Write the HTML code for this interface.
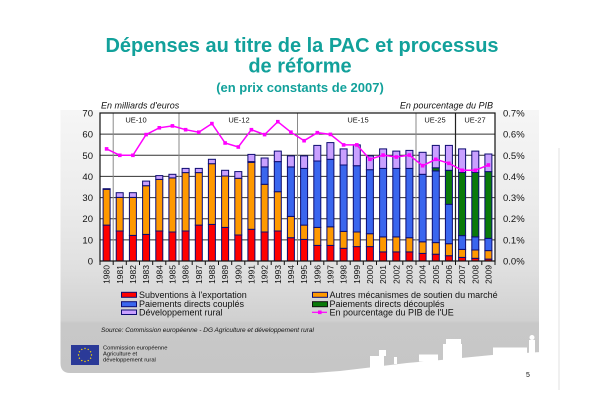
<!DOCTYPE html>
<html><head><meta charset="utf-8"><style>
html,body{margin:0;padding:0;background:#fff;}
svg{display:block;}
text{font-family:"Liberation Sans",Arial,sans-serif;}
</style></head><body>
<svg width="600" height="407" viewBox="0 0 600 407" xmlns="http://www.w3.org/2000/svg">
<defs>
<linearGradient id="pg" x1="0" y1="0" x2="0" y2="1">
<stop offset="0" stop-color="#f6f6f6"/>
<stop offset="0.35" stop-color="#ececec"/>
<stop offset="0.6" stop-color="#e0e0e0"/>
<stop offset="0.8" stop-color="#d0d0d0"/>
<stop offset="0.81" stop-color="#c8c8c8"/>
<stop offset="1" stop-color="#c6c6c6"/>
</linearGradient>
</defs>
<rect width="600" height="407" fill="#fff"/>
<!-- title -->
<g font-weight="bold" fill="#12a19b" text-anchor="middle">
<text x="302" y="52" font-size="20">Dépenses au titre de la PAC et processus</text>
<text x="300" y="72.5" font-size="20">de réforme</text>
<text x="300" y="92" font-size="13">(en prix constants de 2007)</text>
</g>
<!-- panel -->
<path d="M60.5,110 H539 V373 H70 Q60.5,373 60.5,363 Z" fill="url(#pg)"/>
<line x1="559" y1="148" x2="559" y2="390" stroke="#e2e2e2" stroke-width="1"/>
<!-- axis captions -->
<text x="101" y="108.5" font-size="9" font-style="italic" fill="#111">En milliards d'euros</text>
<text x="493" y="108.5" font-size="9" font-style="italic" fill="#111" text-anchor="end">En pourcentage du PIB</text>
<!-- plot bg -->
<rect x="100" y="113" width="395" height="148" fill="#fff"/>
<!-- gridlines -->
<g stroke="#333" stroke-width="1">
<line x1="100" y1="134.1" x2="495" y2="134.1"/>
<line x1="100" y1="155.3" x2="495" y2="155.3"/>
<line x1="100" y1="176.4" x2="495" y2="176.4"/>
<line x1="100" y1="197.6" x2="495" y2="197.6"/>
<line x1="100" y1="218.7" x2="495" y2="218.7"/>
<line x1="100" y1="239.9" x2="495" y2="239.9"/>
</g>
<!-- region dividers -->
<g stroke="#8a8a8a" stroke-width="1">
<line x1="113.2" y1="113" x2="113.2" y2="261"/>
<line x1="179" y1="113" x2="179" y2="261"/>
<line x1="297.5" y1="113" x2="297.5" y2="261"/>
<line x1="416" y1="113" x2="416" y2="261"/>
</g>
<line x1="455.5" y1="113" x2="455.5" y2="261" stroke="#222" stroke-width="1.2"/>
<!-- UE labels -->
<g font-size="7.5" fill="#111" text-anchor="middle">
<text x="136" y="122.5">UE-10</text>
<text x="239" y="122.5">UE-12</text>
<text x="358" y="122.5">UE-15</text>
<text x="435" y="122.5">UE-25</text>
<text x="475" y="122.5">UE-27</text>
</g>
<!-- bars -->
<g stroke="#0c0c70" stroke-width="1">
<g transform="translate(103.1,0)"><rect width="7" y="225.1" height="35.9" fill="#f00"/><rect width="7" y="189.3" height="35.8" fill="#f90"/><rect width="7" y="188.7" height="0.6" fill="#c9a0ff"/></g>
<g transform="translate(116.2,0)"><rect width="7" y="231" height="30" fill="#f00"/><rect width="7" y="197.4" height="33.6" fill="#f90"/><rect width="7" y="192.7" height="4.7" fill="#c9a0ff"/></g>
<g transform="translate(129.4,0)"><rect width="7" y="235.4" height="25.6" fill="#f00"/><rect width="7" y="197.4" height="38" fill="#f90"/><rect width="7" y="192.7" height="4.7" fill="#c9a0ff"/></g>
<g transform="translate(142.6,0)"><rect width="7" y="234.4" height="26.6" fill="#f00"/><rect width="7" y="185.7" height="48.7" fill="#f90"/><rect width="7" y="181.1" height="4.6" fill="#c9a0ff"/></g>
<g transform="translate(155.8,0)"><rect width="7" y="231" height="30" fill="#f00"/><rect width="7" y="179.4" height="51.6" fill="#f90"/><rect width="7" y="175.6" height="3.8" fill="#c9a0ff"/></g>
<g transform="translate(168.9,0)"><rect width="7" y="232" height="29" fill="#f00"/><rect width="7" y="177.9" height="54.1" fill="#f90"/><rect width="7" y="174.3" height="3.6" fill="#c9a0ff"/></g>
<g transform="translate(182.1,0)"><rect width="7" y="231" height="30" fill="#f00"/><rect width="7" y="172.6" height="58.4" fill="#f90"/><rect width="7" y="168.4" height="4.2" fill="#c9a0ff"/></g>
<g transform="translate(195.3,0)"><rect width="7" y="225.1" height="35.9" fill="#f00"/><rect width="7" y="172.6" height="52.5" fill="#f90"/><rect width="7" y="168.4" height="4.2" fill="#c9a0ff"/></g>
<g transform="translate(208.4,0)"><rect width="7" y="224.4" height="36.6" fill="#f00"/><rect width="7" y="163.7" height="60.7" fill="#f90"/><rect width="7" y="159.3" height="4.4" fill="#c9a0ff"/></g>
<g transform="translate(221.6,0)"><rect width="7" y="227.4" height="33.6" fill="#f00"/><rect width="7" y="176" height="51.4" fill="#f90"/><rect width="7" y="170.3" height="5.7" fill="#c9a0ff"/></g>
<g transform="translate(234.8,0)"><rect width="7" y="235" height="26" fill="#f00"/><rect width="7" y="178.3" height="56.7" fill="#f90"/><rect width="7" y="171.6" height="6.7" fill="#c9a0ff"/></g>
<g transform="translate(247.9,0)"><rect width="7" y="229.3" height="31.7" fill="#f00"/><rect width="7" y="162.3" height="67" fill="#f90"/><rect width="7" y="161.6" height="0.7" fill="#3a66ee"/><rect width="7" y="154.4" height="7.2" fill="#c9a0ff"/></g>
<g transform="translate(261.1,0)"><rect width="7" y="232" height="29" fill="#f00"/><rect width="7" y="184.3" height="47.7" fill="#f90"/><rect width="7" y="166.9" height="17.4" fill="#3a66ee"/><rect width="7" y="158" height="8.9" fill="#c9a0ff"/></g>
<g transform="translate(274.3,0)"><rect width="7" y="231" height="30" fill="#f00"/><rect width="7" y="191.7" height="39.3" fill="#f90"/><rect width="7" y="161.6" height="30.1" fill="#3a66ee"/><rect width="7" y="151.1" height="10.5" fill="#c9a0ff"/></g>
<g transform="translate(287.4,0)"><rect width="7" y="237.7" height="23.3" fill="#f00"/><rect width="7" y="216.4" height="21.3" fill="#f90"/><rect width="7" y="166.9" height="49.5" fill="#3a66ee"/><rect width="7" y="155.9" height="11" fill="#c9a0ff"/></g>
<g transform="translate(300.6,0)"><rect width="7" y="239.4" height="21.6" fill="#f00"/><rect width="7" y="225.1" height="14.3" fill="#f90"/><rect width="7" y="168.4" height="56.7" fill="#3a66ee"/><rect width="7" y="155.9" height="12.5" fill="#c9a0ff"/></g>
<g transform="translate(313.8,0)"><rect width="7" y="245.4" height="15.6" fill="#f00"/><rect width="7" y="227.4" height="18" fill="#f90"/><rect width="7" y="161" height="66.4" fill="#3a66ee"/><rect width="7" y="145.4" height="15.6" fill="#c9a0ff"/></g>
<g transform="translate(326.9,0)"><rect width="7" y="245.4" height="15.6" fill="#f00"/><rect width="7" y="226.8" height="18.6" fill="#f90"/><rect width="7" y="159.3" height="67.5" fill="#3a66ee"/><rect width="7" y="142.6" height="16.7" fill="#c9a0ff"/></g>
<g transform="translate(340.1,0)"><rect width="7" y="248.3" height="12.7" fill="#f00"/><rect width="7" y="231.4" height="16.9" fill="#f90"/><rect width="7" y="165" height="66.4" fill="#3a66ee"/><rect width="7" y="148.9" height="16.1" fill="#c9a0ff"/></g>
<g transform="translate(353.3,0)"><rect width="7" y="246.6" height="14.4" fill="#f00"/><rect width="7" y="232" height="14.6" fill="#f90"/><rect width="7" y="165.7" height="66.3" fill="#3a66ee"/><rect width="7" y="144.9" height="20.8" fill="#c9a0ff"/></g>
<g transform="translate(366.4,0)"><rect width="7" y="246.6" height="14.4" fill="#f00"/><rect width="7" y="233.7" height="12.9" fill="#f90"/><rect width="7" y="169.7" height="64" fill="#3a66ee"/><rect width="7" y="155.9" height="13.8" fill="#c9a0ff"/></g>
<g transform="translate(379.6,0)"><rect width="7" y="251.9" height="9.1" fill="#f00"/><rect width="7" y="236.9" height="15" fill="#f90"/><rect width="7" y="168.4" height="68.5" fill="#3a66ee"/><rect width="7" y="148.9" height="19.5" fill="#c9a0ff"/></g>
<g transform="translate(392.8,0)"><rect width="7" y="251.9" height="9.1" fill="#f00"/><rect width="7" y="236.9" height="15" fill="#f90"/><rect width="7" y="168.4" height="68.5" fill="#3a66ee"/><rect width="7" y="151.1" height="17.3" fill="#c9a0ff"/></g>
<g transform="translate(405.9,0)"><rect width="7" y="251.9" height="9.1" fill="#f00"/><rect width="7" y="237.7" height="14.2" fill="#f90"/><rect width="7" y="168.4" height="69.3" fill="#3a66ee"/><rect width="7" y="150.4" height="18" fill="#c9a0ff"/></g>
<g transform="translate(419.1,0)"><rect width="7" y="253.4" height="7.6" fill="#f00"/><rect width="7" y="241.8" height="11.6" fill="#f90"/><rect width="7" y="174.3" height="67.5" fill="#3a66ee"/><rect width="7" y="152.3" height="22" fill="#c9a0ff"/></g>
<g transform="translate(432.3,0)"><rect width="7" y="254.2" height="6.8" fill="#f00"/><rect width="7" y="242.6" height="11.6" fill="#f90"/><rect width="7" y="170.9" height="71.7" fill="#3a66ee"/><rect width="7" y="167.8" height="3.1" fill="#0a7a0a"/><rect width="7" y="145.4" height="22.4" fill="#c9a0ff"/></g>
<g transform="translate(445.4,0)"><rect width="7" y="255.7" height="5.3" fill="#f00"/><rect width="7" y="243.7" height="12" fill="#f90"/><rect width="7" y="204.3" height="39.4" fill="#3a66ee"/><rect width="7" y="170.3" height="34" fill="#0a7a0a"/><rect width="7" y="145.4" height="24.9" fill="#c9a0ff"/></g>
<g transform="translate(458.6,0)"><rect width="7" y="257.4" height="3.6" fill="#f00"/><rect width="7" y="249.4" height="8" fill="#f90"/><rect width="7" y="235.6" height="13.8" fill="#3a66ee"/><rect width="7" y="172.4" height="63.2" fill="#0a7a0a"/><rect width="7" y="148.9" height="23.5" fill="#c9a0ff"/></g>
<g transform="translate(471.8,0)"><rect width="7" y="258.3" height="2.7" fill="#f00"/><rect width="7" y="250" height="8.3" fill="#f90"/><rect width="7" y="236.9" height="13.1" fill="#3a66ee"/><rect width="7" y="172.4" height="64.5" fill="#0a7a0a"/><rect width="7" y="151.1" height="21.3" fill="#c9a0ff"/></g>
<g transform="translate(484.9,0)"><rect width="7" y="259.1" height="1.9" fill="#f00"/><rect width="7" y="250.6" height="8.5" fill="#f90"/><rect width="7" y="238.4" height="12.2" fill="#3a66ee"/><rect width="7" y="171.6" height="66.8" fill="#0a7a0a"/><rect width="7" y="154" height="17.6" fill="#c9a0ff"/></g>
</g>
<!-- plot border -->
<rect x="100" y="113" width="395" height="148" fill="none" stroke="#111" stroke-width="1.2"/>
<!-- x ticks -->
<path d="M100,261v4M113.2,261v4M126.3,261v4M139.5,261v4M152.7,261v4M165.8,261v4M179,261v4M192.2,261v4M205.3,261v4M218.5,261v4M231.7,261v4M244.8,261v4M258,261v4M271.2,261v4M284.3,261v4M297.5,261v4M310.7,261v4M323.8,261v4M337,261v4M350.2,261v4M363.3,261v4M376.5,261v4M389.7,261v4M402.8,261v4M416,261v4M429.2,261v4M442.3,261v4M455.5,261v4M468.7,261v4M481.8,261v4M495,261v4" stroke="#111" stroke-width="1"/>
<!-- pink line -->
<polyline fill="none" stroke="#f0f" stroke-width="1.5" points="106.6,148.9 119.8,155.3 132.9,155.3 146.1,134.6 159.3,127.8 172.4,125.9 185.6,129.7 198.8,132.2 211.9,123.6 225.1,143 238.3,147 251.4,129.7 264.6,134.6 277.8,121.7 290.9,132.2 304.1,140.7 317.3,132.7 330.4,134.4 343.6,144.9 356.8,144.9 369.9,159.3 383.1,155.1 396.3,157 409.4,155.1 422.6,165.7 435.8,159.3 448.9,163.3 462.1,170.3 475.3,170.3 488.4,165"/>
<g fill="#f0f">
<rect x="104.8" y="147.1" width="3.6" height="3.6"/><rect x="118" y="153.5" width="3.6" height="3.6"/><rect x="131.1" y="153.5" width="3.6" height="3.6"/><rect x="144.3" y="132.8" width="3.6" height="3.6"/><rect x="157.5" y="126" width="3.6" height="3.6"/><rect x="170.6" y="124.1" width="3.6" height="3.6"/><rect x="183.8" y="127.9" width="3.6" height="3.6"/><rect x="197" y="130.4" width="3.6" height="3.6"/><rect x="210.1" y="121.8" width="3.6" height="3.6"/><rect x="223.3" y="141.2" width="3.6" height="3.6"/><rect x="236.5" y="145.2" width="3.6" height="3.6"/><rect x="249.6" y="127.9" width="3.6" height="3.6"/><rect x="262.8" y="132.8" width="3.6" height="3.6"/><rect x="276" y="119.9" width="3.6" height="3.6"/><rect x="289.1" y="130.4" width="3.6" height="3.6"/><rect x="302.3" y="138.9" width="3.6" height="3.6"/><rect x="315.5" y="130.9" width="3.6" height="3.6"/><rect x="328.6" y="132.6" width="3.6" height="3.6"/><rect x="341.8" y="143.1" width="3.6" height="3.6"/><rect x="355" y="143.1" width="3.6" height="3.6"/><rect x="368.1" y="157.5" width="3.6" height="3.6"/><rect x="381.3" y="153.3" width="3.6" height="3.6"/><rect x="394.5" y="155.2" width="3.6" height="3.6"/><rect x="407.6" y="153.3" width="3.6" height="3.6"/><rect x="420.8" y="163.9" width="3.6" height="3.6"/><rect x="434" y="157.5" width="3.6" height="3.6"/><rect x="447.1" y="161.5" width="3.6" height="3.6"/><rect x="460.3" y="168.5" width="3.6" height="3.6"/><rect x="473.5" y="168.5" width="3.6" height="3.6"/><rect x="486.6" y="163.2" width="3.6" height="3.6"/>
</g>
<!-- left axis labels -->
<g font-size="9.5" fill="#111" text-anchor="end">
<text x="93" y="116.5">70</text><text x="93" y="137.6">60</text><text x="93" y="158.8">50</text><text x="93" y="179.9">40</text><text x="93" y="201.1">30</text><text x="93" y="222.2">20</text><text x="93" y="243.4">10</text><text x="93" y="264.5">0</text>
</g>
<g font-size="9.5" fill="#111">
<text x="503" y="116.5">0.7%</text><text x="503" y="137.6">0.6%</text><text x="503" y="158.8">0.5%</text><text x="503" y="179.9">0.4%</text><text x="503" y="201.1">0.3%</text><text x="503" y="222.2">0.2%</text><text x="503" y="243.4">0.1%</text><text x="503" y="264.5">0.0%</text>
</g>
<!-- x labels -->
<g font-size="8.5" fill="#111" text-anchor="end">
<text transform="translate(109.6,265) rotate(-90)">1980</text>
<text transform="translate(122.8,265) rotate(-90)">1981</text>
<text transform="translate(135.9,265) rotate(-90)">1982</text>
<text transform="translate(149.1,265) rotate(-90)">1983</text>
<text transform="translate(162.3,265) rotate(-90)">1984</text>
<text transform="translate(175.4,265) rotate(-90)">1985</text>
<text transform="translate(188.6,265) rotate(-90)">1986</text>
<text transform="translate(201.8,265) rotate(-90)">1987</text>
<text transform="translate(214.9,265) rotate(-90)">1988</text>
<text transform="translate(228.1,265) rotate(-90)">1989</text>
<text transform="translate(241.3,265) rotate(-90)">1990</text>
<text transform="translate(254.4,265) rotate(-90)">1991</text>
<text transform="translate(267.6,265) rotate(-90)">1992</text>
<text transform="translate(280.8,265) rotate(-90)">1993</text>
<text transform="translate(293.9,265) rotate(-90)">1994</text>
<text transform="translate(307.1,265) rotate(-90)">1995</text>
<text transform="translate(320.3,265) rotate(-90)">1996</text>
<text transform="translate(333.4,265) rotate(-90)">1997</text>
<text transform="translate(346.6,265) rotate(-90)">1998</text>
<text transform="translate(359.8,265) rotate(-90)">1999</text>
<text transform="translate(372.9,265) rotate(-90)">2000</text>
<text transform="translate(386.1,265) rotate(-90)">2001</text>
<text transform="translate(399.3,265) rotate(-90)">2002</text>
<text transform="translate(412.4,265) rotate(-90)">2003</text>
<text transform="translate(425.6,265) rotate(-90)">2004</text>
<text transform="translate(438.8,265) rotate(-90)">2005</text>
<text transform="translate(451.9,265) rotate(-90)">2006</text>
<text transform="translate(465.1,265) rotate(-90)">2007</text>
<text transform="translate(478.3,265) rotate(-90)">2008</text>
<text transform="translate(491.4,265) rotate(-90)">2009</text>
</g>
<!-- legend -->
<g stroke="#0c0c70" stroke-width="1">
<rect x="121.5" y="292.3" width="15" height="5" fill="#f00"/>
<rect x="121.5" y="301.7" width="15" height="5" fill="#3a66ee"/>
<rect x="121.5" y="310" width="15" height="4.5" fill="#c9a0ff"/>
<rect x="312.5" y="292.3" width="15" height="5" fill="#f90"/>
<rect x="312.5" y="301.7" width="15" height="5" fill="#0a7a0a" stroke="#111"/>
</g>
<line x1="312" y1="312.3" x2="327" y2="312.3" stroke="#f0f" stroke-width="1.2"/>
<rect x="318" y="310.5" width="3.6" height="3.6" fill="#f0f"/>
<g font-size="9" fill="#111">
<text x="139" y="298">Subventions à l'exportation</text>
<text x="139" y="307">Paiements directs couplés</text>
<text x="139" y="315.5">Développement rural</text>
<text x="329.5" y="298">Autres mécanismes de soutien du marché</text>
<text x="329.5" y="307">Paiements directs découplés</text>
<text x="329.5" y="315.5">En pourcentage du PIB de l'UE</text>
</g>
<text x="101" y="332" font-size="6.5" font-style="italic" fill="#111">Source: Commission européenne - DG Agriculture et développement rural</text>
<!-- EU logo -->
<rect x="71" y="345" width="28" height="20" fill="#2b3a98"/>
<g fill="#ffdd00">
<circle cx="85" cy="348.5" r="0.7"/><circle cx="88.2" cy="349.4" r="0.7"/><circle cx="90.6" cy="351.8" r="0.7"/><circle cx="91.5" cy="355" r="0.7"/><circle cx="90.6" cy="358.2" r="0.7"/><circle cx="88.2" cy="360.6" r="0.7"/><circle cx="85" cy="361.5" r="0.7"/><circle cx="81.8" cy="360.6" r="0.7"/><circle cx="79.4" cy="358.2" r="0.7"/><circle cx="78.5" cy="355" r="0.7"/><circle cx="79.4" cy="351.8" r="0.7"/><circle cx="81.8" cy="349.4" r="0.7"/>
</g>
<g font-size="5.8" fill="#111">
<text x="103" y="349.5">Commission européenne</text>
<text x="103" y="355.5">Agriculture et</text>
<text x="103" y="361.5">développement rural</text>
</g>
<!-- white ground & cows -->
<g fill="#fff">
<path d="M300,374 L340,371 L374,367 L407,363 L441,360 L492,355 L541,352 L541,376 L300,376 Z"/>
<rect x="370" y="356" width="14" height="12"/>
<rect x="379" y="350" width="7" height="6"/>
<rect x="394" y="357" width="3" height="7"/>
<rect x="419" y="354.5" width="19" height="7"/>
<rect x="443" y="344" width="19" height="17"/>
<rect x="446" y="339" width="15" height="7"/>
<rect x="493" y="347.5" width="34" height="8"/>
<rect x="529" y="340" width="6" height="14"/>
<circle cx="532" cy="337.5" r="2.5"/>
</g>
<text x="526" y="377" font-size="7" fill="#111">5</text>
</svg>
</body></html>
